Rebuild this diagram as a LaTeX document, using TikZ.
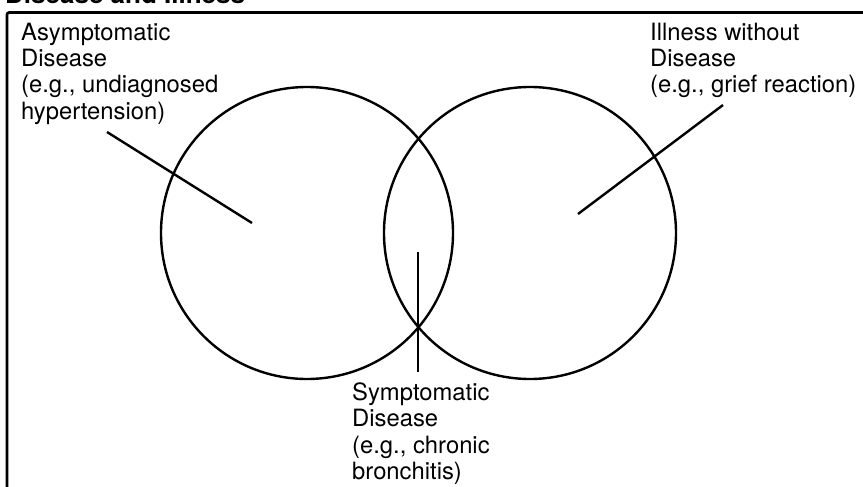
\documentclass[tikz,border=0pt]{standalone}
\usepackage{fontspec}
\setmainfont{TeX Gyre Heros}
\usetikzlibrary{positioning}

\begin{document}
\begin{tikzpicture}[x=1pt,y=-1pt,
 ring/.style={draw=black,line width=2.4pt,circle,minimum size=292pt,inner sep=0pt},
 leader/.style={draw=black,line width=2.4pt},
 vennlabel/.style={font=\fontsize{23.8}{26.5}\selectfont,align=left,
   anchor=base west,inner sep=0pt}]
\useasboundingbox (0,0) rectangle (863,487);
% Frame and title, both cut by the page edge.
\node[font=\fontsize{26}{30}\selectfont\bfseries,anchor=base west,inner sep=0pt]
  (title) at (5,4) {Disease and Illness};
\draw[line width=2.6pt,rounded corners=2pt] (7,520) |- (900,12.5);

\node[ring] (disease) at (307,233) {};
\node[ring] (illness) at (530,233) {};

% Labels are placed by the baseline of their last line.
\node[vennlabel] (asym) at (21,119.5)
  {Asymptomatic\\Disease\\(e.g., undiagnosed\\hypertension)};
\node[vennlabel] (noDis) at (650,93)
  {Illness without\\Disease\\(e.g., grief reaction)};
\node[vennlabel] (symp) at (352,479.5)
  {Symptomatic\\Disease\\(e.g., chronic\\bronchitis)};

\coordinate (asymTail) at (107,132);
\coordinate (asymTip) at (252,223);
\coordinate (noDisTail) at (723,105);
\coordinate (noDisTip) at (578,214);
\coordinate (sympTail) at (418,372);
\coordinate (sympTip) at (418,252);
\draw[leader] (asymTail)--(asymTip);
\draw[leader] (noDisTail)--(noDisTip);
\draw[leader] (sympTail)--(sympTip);
\end{tikzpicture}
\end{document}
